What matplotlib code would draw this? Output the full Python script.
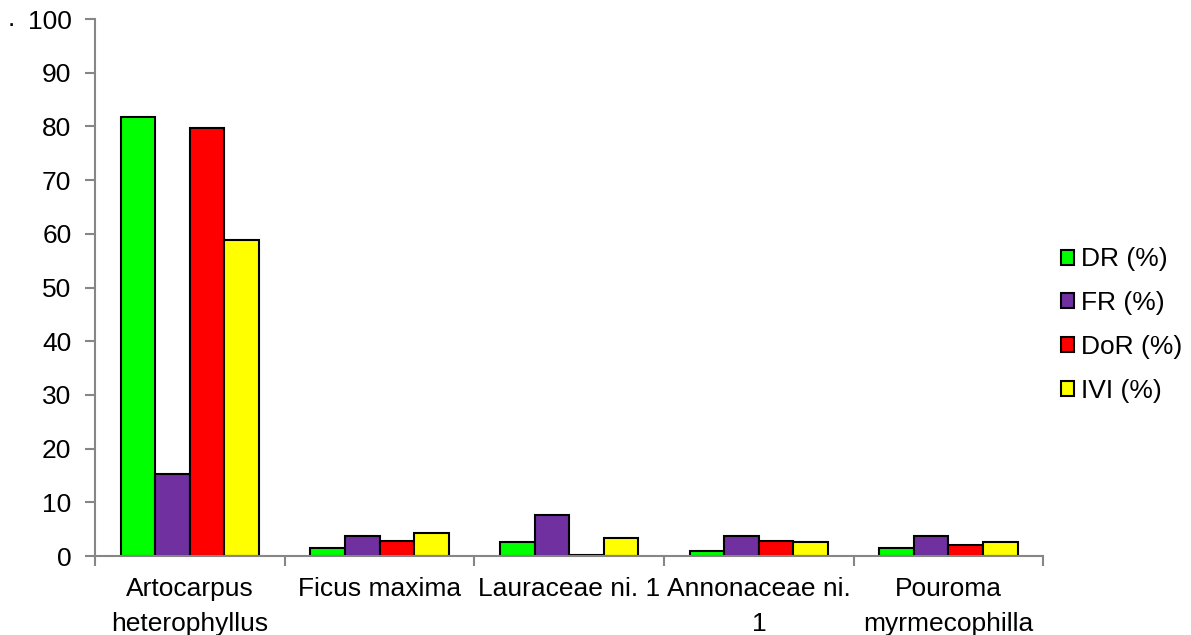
import numpy as np
import matplotlib
matplotlib.use("Agg")
import matplotlib.pyplot as plt

plt.rcParams['font.family'] = ['Liberation Sans', 'DejaVu Sans']

# species and their relative parameters
species = ["Artocarpus\nheterophyllus", "Ficus maxima", "Lauraceae ni. 1",
           "Annonaceae ni.\n1", "Pouroma\nmyrmecophilla"]
dr = [81.8, 1.5, 2.6, 1.0, 1.5]
fr = [15.3, 3.8, 7.6, 3.8, 3.8]
dor = [79.8, 2.85, 0.1, 2.85, 2.05]
ivi = [58.8, 4.3, 3.4, 2.55, 2.55]

series = [("DR (%)", dr, "#00ff00"),
          ("FR (%)", fr, "#7030a0"),
          ("DoR (%)", dor, "#ff0000"),
          ("IVI (%)", ivi, "#ffff00")]

fs = 19

fig = plt.figure(figsize=(11.91, 6.35), dpi=100)
ax = fig.add_axes([0.0798, 0.1244, 0.7962, 0.8456])

x = np.arange(len(species))
w = 0.182
for i, (name, vals, col) in enumerate(series):
    ax.bar(x + (i - 1.5) * w, vals, w, color=col, edgecolor="black",
           linewidth=1.5, label=name)

ax.set_xlim(-0.5, len(species) - 0.5)
ax.set_ylim(0, 100)
ax.set_yticks(range(0, 101, 10))

# category labels centred, ticks at group boundaries
ax.set_xticks(x)
ax.set_xticklabels(species, fontsize=fs, linespacing=1.6)
ax.set_xticks(np.arange(len(species) + 1) - 0.5, minor=True)
ax.tick_params(axis="x", which="major", length=0, pad=15)
ax.tick_params(axis="x", which="minor", length=7, width=1.5, color="#868686",
               direction="out")
ax.tick_params(axis="y", labelsize=fs, length=7, width=1.5, color="#868686",
               direction="out", pad=10)

for side in ("top", "right"):
    ax.spines[side].set_visible(False)
for side in ("left", "bottom"):
    ax.spines[side].set_color("#868686")
    ax.spines[side].set_linewidth(1.5)

fig.text(0.006, 0.97, ".", fontsize=fs, va="center")

ax.legend(loc="center left", bbox_to_anchor=(1.005, 0.43), frameon=False,
          fontsize=fs, handlelength=0.5, handleheight=0.5, handletextpad=0.25,
          labelspacing=0.75, borderpad=0)

fig.savefig("out.png", dpi=100)
